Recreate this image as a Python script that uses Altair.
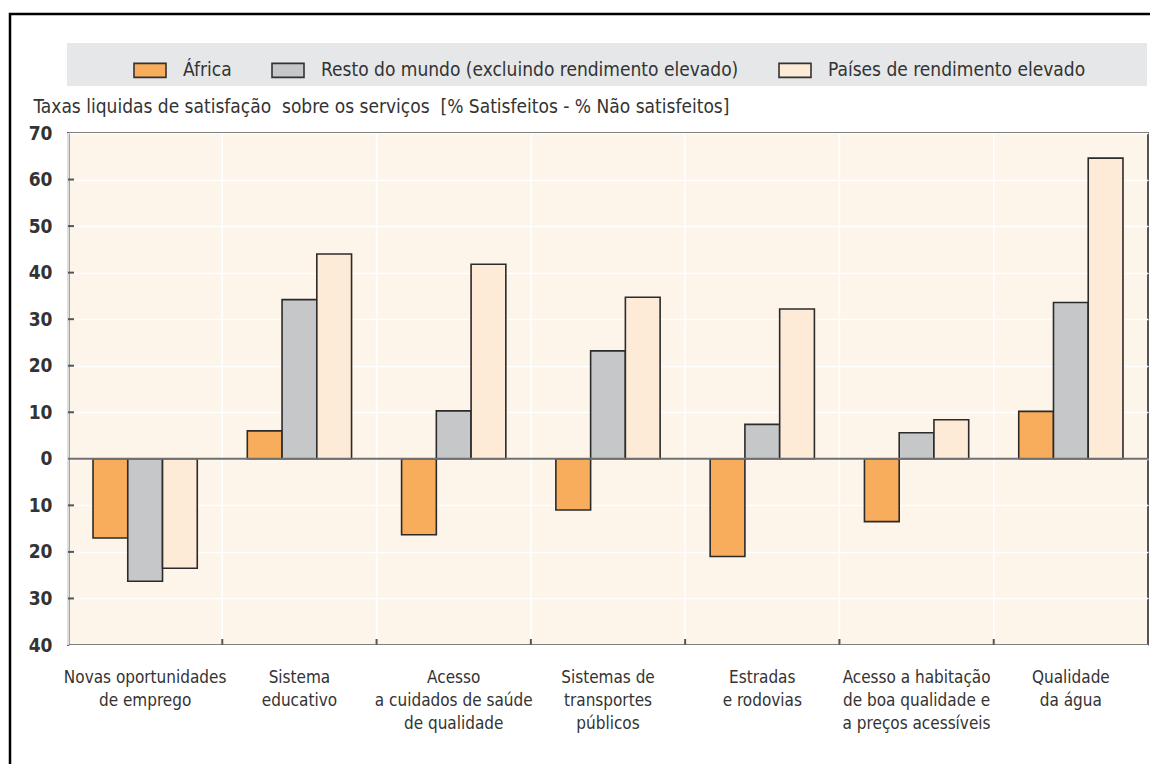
import altair as alt
import pandas as pd

categories = [
    "Novas oportunidades|de emprego",
    "Sistema|educativo",
    "Acesso|a cuidados de saúde|de qualidade",
    "Sistemas de|transportes|públicos",
    "Estradas|e rodovias",
    "Acesso a habitação|de boa qualidade e|a preços acessíveis",
    "Qualidade|da água",
]
series = ["África", "Resto do mundo (excluindo rendimento elevado)", "Países de rendimento elevado"]
africa = [-17.0, 6.0, -16.3, -11.0, -21.0, -13.5, 10.2]
resto = [-26.3, 34.2, 10.3, 23.2, 7.4, 5.6, 33.6]
paises = [-23.5, 44.0, 41.8, 34.7, 32.2, 8.4, 64.6]
colors = ["#f8ad5c", "#c6c7c9", "#fdebd7"]
y_ticks = [-40, -30, -20, -10, 0, 10, 20, 30, 40, 50, 60, 70]
inner_ticks = [-30, -20, -10, 10, 20, 30, 40, 50, 60]
subtitle = "Taxas liquidas de satisfação\u00a0 sobre os serviços\u00a0 [% Satisfeitos - % Não satisfeitos]"

rows = []
for s, vals in zip(series, [africa, resto, paises]):
    for c, v in zip(categories, vals):
        rows.append({"cat": c, "series": s, "value": v})
df = pd.DataFrame(rows)

FONT = "'DejaVu Sans Condensed', 'Liberation Sans Narrow', 'Roboto Condensed', sans-serif"
TXT = "#333333"
W, H = 1080, 512

x_enc = alt.X(
    "cat:N", sort=categories, title=None,
    scale=alt.Scale(paddingInner=0, paddingOuter=0),
    axis=alt.Axis(
        labelExpr="split(datum.label, '|')", labelAngle=0, labelAlign="center",
        labelFontSize=17, labelLineHeight=23, labelBaseline="top", labelPadding=24,
        labelColor=TXT, labelFont=FONT, labelLimit=300, ticks=False, domain=False,
        grid=False,
    ),
)

bars = alt.Chart(df).mark_bar(stroke="#2b2b2b", strokeWidth=1.6).encode(
    x=x_enc,
    xOffset=alt.XOffset("series:N", sort=series,
                        scale=alt.Scale(paddingInner=0, paddingOuter=0.72)),
    y=alt.Y(
        "value:Q", scale=alt.Scale(domain=[-40, 70], nice=False, zero=False),
        axis=alt.Axis(
            values=y_ticks, labelExpr="abs(datum.value)", grid=True,
            gridColor="#ffffff", gridWidth=1.6, ticks=False,
            domainColor="#555555", domainWidth=2, labelPadding=16,
            labelFontSize=19, labelFontWeight="bold", labelColor=TXT, labelFont=FONT,
            title=subtitle, titleAngle=0, titleAlign="left", titleBaseline="alphabetic",
            titleX=-35, titleY=-21, titleFontSize=19, titleFontWeight="normal",
            titleColor=TXT, titleFont=FONT, titleLimit=1000,
        ),
    ),
    color=alt.Color(
        "series:N", sort=series,
        scale=alt.Scale(domain=series, range=colors),
        legend=alt.Legend(
            title=None, orient="none", legendX=65, legendY=-80, direction="horizontal",
            columns=3, columnPadding=36, labelOffset=16, labelFontSize=19,
            labelColor=TXT, labelFont=FONT, labelLimit=600,
            symbolType="M-1,-0.44L1,-0.44L1,0.44L-1,0.44Z", symbolSize=1024,
            symbolStrokeColor="#333333", symbolStrokeWidth=1.6, symbolOpacity=1,
            padding=0,
        ),
    ),
)

grid_v = alt.Chart(pd.DataFrame({"cat": categories})).mark_rule(
    color="#ffffff", strokeWidth=1.6
).encode(x=alt.X("cat:N", sort=categories, bandPosition=0, title=None))

ticks_x = alt.Chart(pd.DataFrame({"cat": categories[1:]})).mark_rule(
    color="#555555", strokeWidth=2
).encode(x=alt.X("cat:N", sort=categories, bandPosition=0, title=None),
         y=alt.value(H), y2=alt.value(H - 6))

ticks_y = alt.Chart(pd.DataFrame({"v": inner_ticks})).mark_rule(
    color="#555555", strokeWidth=2
).encode(y=alt.Y("v:Q"), x=alt.value(0), x2=alt.value(6))

zero = alt.Chart(pd.DataFrame({"v": [0]})).mark_rule(
    color="#707070", strokeWidth=2
).encode(y=alt.Y("v:Q"))

band = alt.Chart(alt.Data(values=[{}])).mark_rect(color="#e6e7e8").encode(
    x=alt.value(-1), x2=alt.value(W - 1), y=alt.value(-90), y2=alt.value(-47)
)

frame = alt.Chart(alt.Data(values=[{}])).mark_rect(
    fillOpacity=0, stroke="#000000", strokeWidth=2.5
).encode(x=alt.value(-58), x2=alt.value(W + 40), y=alt.value(-119), y2=alt.value(H + 200))

chart = alt.layer(band, frame, grid_v, bars, zero, ticks_y, ticks_x).resolve_scale(
    x="shared", y="shared"
).properties(
    width=W, height=H,
    autosize=alt.AutoSizeParams(type="none"),
    padding={"left": 60, "top": 125, "right": 2, "bottom": 119},
    background="#ffffff",
).configure_view(
    fill="#fdf5ea", stroke="#555555", strokeWidth=2
)

chart.save("out.html", embed_options={"renderer": "svg", "actions": False})
